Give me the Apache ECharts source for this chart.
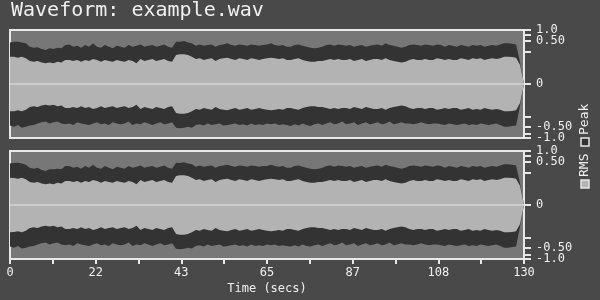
<!DOCTYPE html>
<html>
<head>
<meta charset="utf-8">
<script src="https://cdn.jsdelivr.net/npm/echarts@6/dist/echarts.min.js"></script>
<style>
html,body{margin:0;padding:0;background:#494949;}
#chart{width:600px;height:300px;}
</style>
</head>
<body>
<div id="chart"></div>
<script>
// ---- data: per-second envelope levels in dBFS (display is a 30 dB log amplitude scale) ----
const titleText = 'Waveform: example.wav';
const xAxisName = 'Time (secs)';
const durationSecs = 130;
const legendNames = ['RMS', 'Peak'];

// channel 1 (top panel)
const peakPosL = [-6.9,-6.5,-6.5,-6.9,-7.4,-9.3,-9.8,-9.6,-10.6,-11.1,
 -10.2,-10.6,-9.8,-10.2,-8.3,-8.0,-9.3,-8.7,-9.8,-8.3,
 -9.3,-7.4,-9.3,-9.8,-8.3,-9.3,-10.2,-8.7,-9.3,-9.8,
 -8.3,-9.3,-8.7,-8.0,-9.3,-8.7,-8.3,-9.3,-8.7,-8.0,
 -9.3,-9.8,-6.5,-6.5,-6.1,-6.9,-7.4,-8.7,-8.0,-8.7,
 -8.3,-8.0,-9.3,-8.3,-8.0,-7.4,-8.3,-8.7,-8.0,-8.3,
 -8.7,-8.0,-8.3,-8.7,-8.3,-8.0,-7.4,-8.3,-8.7,-8.3,
 -9.3,-9.3,-8.3,-8.0,-8.7,-9.3,-9.8,-10.2,-9.8,-9.3,
 -8.3,-8.0,-8.7,-8.0,-8.3,-8.7,-8.3,-9.3,-8.7,-8.3,
 -9.3,-8.7,-8.3,-8.0,-8.7,-7.4,-8.3,-8.7,-9.3,-9.8,
 -9.3,-8.3,-8.0,-8.3,-8.7,-8.0,-8.3,-8.7,-8.0,-8.3,
 -9.3,-8.3,-8.7,-9.3,-8.3,-8.7,-9.3,-8.3,-8.7,-8.3,
 -9.3,-8.7,-8.3,-8.7,-8.0,-7.4,-7.4,-7.6,-8.0,-18,
 -30];
const peakNegL = [-6.9,-6.3,-7.2,-5.7,-6.3,-6.9,-7.2,-8.1,-8.7,-9.1,
 -8.1,-8.7,-9.1,-8.1,-7.6,-8.1,-7.2,-8.7,-8.1,-7.6,
 -7.2,-8.1,-8.7,-7.6,-8.1,-7.2,-8.7,-8.1,-7.6,-8.1,
 -9.1,-7.2,-8.1,-7.6,-8.7,-8.1,-7.2,-8.1,-8.7,-7.6,
 -8.1,-8.7,-5.7,-5.4,-5.7,-6.3,-5.7,-7.2,-7.6,-6.9,
 -8.1,-7.2,-7.6,-8.1,-6.9,-7.2,-7.6,-8.1,-7.2,-7.6,
 -6.9,-8.1,-7.2,-7.6,-7.2,-8.1,-7.6,-8.1,-7.2,-7.6,
 -7.2,-6.6,-7.6,-6.9,-8.1,-7.2,-6.6,-7.6,-8.1,-7.2,
 -8.1,-8.7,-7.6,-8.1,-9.1,-7.6,-8.1,-8.7,-7.2,-8.1,
 -8.7,-7.6,-8.1,-8.7,-7.6,-8.1,-9.1,-7.6,-8.1,-8.7,
 -8.1,-8.1,-7.6,-8.1,-8.7,-8.1,-7.6,-8.1,-8.1,-7.6,
 -7.2,-8.1,-7.6,-7.2,-7.6,-8.1,-7.2,-7.6,-7.2,-8.1,
 -7.6,-7.2,-7.6,-8.1,-7.2,-6.3,-6.3,-6.6,-6.9,-18,
 -30];
const rmsL = [-14.8,-14.8,-15.4,-14.8,-15.7,-17.2,-17.6,-17.2,-18.1,-18.5,
 -18.1,-18.5,-17.6,-18.1,-16.7,-16.7,-17.2,-16.7,-17.6,-16.7,
 -17.2,-16.1,-16.7,-17.6,-16.7,-17.2,-17.6,-16.7,-17.2,-17.6,
 -16.7,-17.2,-18.5,-16.1,-17.2,-16.7,-16.1,-17.2,-16.7,-16.1,
 -17.2,-17.6,-13.9,-13.5,-13.5,-13.9,-14.8,-16.1,-15.7,-16.7,
 -16.1,-15.7,-17.2,-16.1,-15.7,-15.4,-16.1,-16.7,-15.7,-16.1,
 -16.7,-15.7,-16.1,-16.7,-16.1,-15.7,-15.4,-15.7,-16.1,-15.7,
 -16.7,-16.7,-16.1,-15.7,-16.7,-17.2,-17.6,-17.6,-17.2,-17.2,
 -16.7,-16.1,-16.7,-16.1,-16.7,-16.7,-16.1,-17.2,-16.7,-16.1,
 -17.2,-16.7,-16.1,-16.1,-16.7,-15.7,-16.7,-17.2,-17.6,-18.1,
 -17.6,-16.7,-16.1,-16.7,-16.7,-16.1,-16.7,-16.7,-15.7,-16.1,
 -16.7,-16.1,-16.7,-16.7,-15.7,-16.1,-16.7,-15.7,-16.1,-15.7,
 -16.7,-16.1,-15.7,-16.1,-15.7,-14.8,-14.8,-15.0,-15.4,-19.5,
 -30];

// channel 2 (bottom panel)
const peakPosR = [-6.9,-6.7,-6.5,-6.9,-7.6,-9.3,-9.8,-9.3,-10.6,-11.1,
 -10.2,-10.2,-9.8,-10.2,-8.3,-8.3,-9.3,-8.7,-9.8,-8.3,
 -9.3,-7.6,-9.3,-9.8,-8.3,-9.3,-10.2,-8.7,-9.3,-9.8,
 -8.3,-9.3,-8.7,-8.0,-9.3,-8.7,-8.3,-9.3,-8.7,-8.0,
 -9.3,-9.8,-6.5,-6.7,-6.3,-6.9,-7.4,-8.7,-8.0,-8.7,
 -8.3,-8.0,-9.3,-8.3,-8.0,-7.6,-8.3,-8.7,-8.0,-8.3,
 -8.7,-8.0,-8.3,-8.7,-8.3,-8.3,-7.6,-8.3,-8.7,-8.3,
 -9.3,-9.3,-8.3,-8.0,-8.7,-9.3,-9.8,-10.2,-9.8,-9.3,
 -8.3,-8.0,-8.7,-8.0,-8.3,-8.7,-8.3,-9.3,-8.7,-8.3,
 -9.3,-8.7,-8.3,-8.0,-8.7,-7.6,-8.3,-8.7,-9.3,-9.8,
 -9.3,-8.3,-8.0,-8.3,-8.7,-8.0,-8.3,-8.7,-8.0,-8.3,
 -9.3,-8.3,-8.7,-9.3,-8.3,-8.7,-9.3,-8.3,-8.7,-8.3,
 -9.3,-8.7,-8.3,-8.7,-8.0,-7.4,-7.4,-7.6,-8.0,-18,
 -30];
const peakNegR = [-6.9,-6.3,-7.2,-5.9,-6.3,-6.9,-7.2,-8.1,-8.7,-9.1,
 -8.1,-8.7,-9.1,-8.1,-7.6,-8.1,-7.2,-8.7,-8.1,-7.6,
 -7.2,-8.1,-8.7,-7.6,-8.1,-7.2,-8.7,-8.1,-7.6,-8.1,
 -9.1,-7.2,-8.1,-7.6,-8.7,-8.1,-7.2,-8.1,-8.7,-7.6,
 -8.1,-8.7,-5.7,-5.4,-5.7,-6.3,-5.9,-7.2,-7.6,-6.9,
 -8.1,-7.2,-7.6,-8.1,-6.9,-7.2,-7.6,-8.1,-7.2,-7.6,
 -6.9,-8.1,-7.2,-7.6,-7.2,-8.1,-7.6,-8.1,-7.2,-7.6,
 -7.2,-6.9,-7.6,-6.9,-8.1,-7.2,-6.9,-7.6,-8.1,-7.2,
 -8.1,-8.7,-7.6,-8.1,-9.1,-7.6,-8.1,-8.7,-7.2,-8.1,
 -8.7,-7.6,-8.1,-8.7,-7.6,-8.1,-9.1,-7.6,-8.1,-8.7,
 -8.1,-8.1,-7.6,-8.1,-8.7,-8.1,-7.6,-8.1,-8.1,-7.6,
 -7.2,-8.1,-7.6,-7.2,-7.6,-8.1,-7.2,-7.6,-7.2,-8.1,
 -7.6,-7.2,-7.6,-8.1,-7.2,-6.3,-6.3,-6.6,-6.9,-18,
 -30];
const rmsR = [-14.8,-15.0,-15.4,-14.8,-15.7,-17.2,-17.6,-17.2,-18.1,-18.5,
 -18.1,-18.5,-17.6,-18.1,-16.7,-16.7,-17.2,-16.7,-17.6,-16.7,
 -17.2,-16.1,-16.7,-17.6,-16.7,-17.2,-17.6,-16.7,-17.2,-17.6,
 -16.7,-17.2,-18.5,-16.1,-17.2,-16.7,-16.1,-17.2,-16.7,-16.1,
 -17.2,-17.6,-13.9,-13.5,-13.5,-13.9,-14.8,-16.1,-15.7,-16.7,
 -16.1,-15.7,-17.2,-16.1,-15.7,-15.4,-16.1,-16.7,-15.7,-16.1,
 -16.7,-15.7,-16.1,-16.7,-16.1,-15.7,-15.4,-15.7,-16.1,-15.7,
 -16.7,-16.7,-16.1,-15.7,-16.7,-17.2,-17.6,-17.6,-17.2,-17.2,
 -16.7,-16.1,-16.7,-16.1,-16.7,-16.7,-16.1,-17.2,-16.7,-16.1,
 -17.2,-16.7,-16.1,-16.1,-16.7,-15.7,-16.7,-17.2,-17.6,-18.1,
 -17.6,-16.7,-16.1,-16.7,-16.7,-16.1,-16.7,-16.7,-15.7,-16.1,
 -16.7,-16.1,-16.7,-16.7,-15.7,-16.1,-16.7,-15.7,-16.1,-15.7,
 -16.7,-16.1,-15.7,-16.1,-15.7,-14.8,-14.8,-15.0,-15.4,-19.5,
 -30];

// y axis: amplitude ticks on the log (dB) scale
const yTickAmps = [1, 0.75, 0.5, 0.25, 0, -0.25, -0.5, -0.75, -1];
const yLabelAmpsA = [1, 0, -1];
const yLabelTextsA = ['1.0', '0', '-1.0'];
const yLabelAmpsB = [0.5, -0.5];
const yLabelTextsB = ['0.50', '-0.50'];
const xTickCount = 12;   // minor+major tick intervals
const xLabelEvery = 2;

// ---- scale helpers ----
const DB_RANGE = 30;
const dbToLevel = db => Math.max(0, DB_RANGE + db);
const ampToLevel = a => a === 0 ? 0 : Math.sign(a) * Math.max(0, DB_RANGE + 20 * Math.log10(Math.abs(a)));

const COL = {
  bg: '#494949', panel: '#777777', peak: '#333333', rms: '#b3b3b3',
  frame: '#e8e8e8', text: '#f0f0f0', center: '#cccccc'
};
const MONO = 'DejaVu Sans Mono';

const yTickLevels = yTickAmps.map(ampToLevel);
const xTicks = [];
for (let k = 0; k <= xTickCount; k++) xTicks.push(durationSecs * k / xTickCount);
const xLabels = xTicks.filter((v, k) => k % xLabelEvery === 0);

function pts(arr, sign) {
  return arr.map((db, i) => [i, sign * dbToLevel(db)]);
}
function makeFmt(amps, texts) {
  const lv = amps.map(ampToLevel);
  return v => {
    let best = 0, bd = Infinity;
    lv.forEach((l, i) => { const d = Math.abs(l - v); if (d < bd) { bd = d; best = i; } });
    return texts[best];
  };
}

const gridTops = [30, 151];
const gridH = 108;
const grids = gridTops.map(t => ({
  left: 10, right: 76, top: t, height: gridH, show: true,
  backgroundColor: COL.panel, borderColor: COL.frame, borderWidth: 2
}));

const xAxes = [0, 1].map(g => ({
  gridIndex: g, type: 'value', min: 0, max: durationSecs,
  show: g === 1,
  axisLine: { show: true, onZero: false, lineStyle: { color: COL.frame, width: 2 } },
  axisTick: { show: true, customValues: xTicks, length: 5, lineStyle: { color: COL.frame, width: 2 } },
  axisLabel: { customValues: xLabels, formatter: v => String(Math.round(v)), color: COL.text,
    fontFamily: MONO, fontSize: 12, margin: 8 },
  splitLine: { show: false },
  name: g === 1 ? xAxisName : '', nameLocation: 'middle', nameGap: 24,
  nameTextStyle: { color: COL.text, fontFamily: MONO, fontSize: 12 }
}));

const labelStyle = { color: COL.text, fontFamily: MONO, fontSize: 12, margin: 12, hideOverlap: false,
  showMinLabel: true, showMaxLabel: true, padding: [0, 0, 4, 0] };
const yAxes = [];
[0, 1].forEach(g => {
  yAxes.push({
    gridIndex: g, type: 'value', min: -DB_RANGE, max: DB_RANGE, position: 'right',
    axisLine: { show: true, onZero: false, lineStyle: { color: COL.frame, width: 2 } },
    axisTick: { show: true, customValues: yTickLevels, length: 7, lineStyle: { color: COL.frame, width: 2 } },
    axisLabel: Object.assign({ customValues: yLabelAmpsA.map(ampToLevel), formatter: makeFmt(yLabelAmpsA, yLabelTextsA) }, labelStyle),
    splitLine: { show: false }
  });
});
[0, 1].forEach(g => {
  yAxes.push({
    gridIndex: g, type: 'value', min: -DB_RANGE, max: DB_RANGE, position: 'right',
    axisLine: { show: false, onZero: false }, axisTick: { show: false },
    axisLabel: Object.assign({ customValues: yLabelAmpsB.map(ampToLevel), formatter: makeFmt(yLabelAmpsB, yLabelTextsB) }, labelStyle),
    splitLine: { show: false }
  });
});

const channels = [
  { peakPos: peakPosL, peakNeg: peakNegL, rms: rmsL },
  { peakPos: peakPosR, peakNeg: peakNegR, rms: rmsR }
];
const series = [];
channels.forEach((ch, g) => {
  const base = { type: 'line', xAxisIndex: g, yAxisIndex: g, showSymbol: false, symbol: 'none',
    silent: true, lineStyle: { width: 0, opacity: 0 } };
  series.push(Object.assign({}, base, { name: 'Peak', data: pts(ch.peakPos, 1), areaStyle: { color: COL.peak, opacity: 1 } }));
  series.push(Object.assign({}, base, { name: 'Peak', data: pts(ch.peakNeg, -1), areaStyle: { color: COL.peak, opacity: 1 } }));
  series.push(Object.assign({}, base, { name: 'RMS', data: pts(ch.rms, 1), areaStyle: { color: COL.rms, opacity: 1 } }));
  series.push(Object.assign({}, base, { name: 'RMS', data: pts(ch.rms, -1), areaStyle: { color: COL.rms, opacity: 1 },
    markLine: { silent: true, symbol: ['none', 'none'], label: { show: false },
      lineStyle: { color: COL.center, width: 2, type: 'solid' }, data: [{ yAxis: 0 }] } }));
});

const legendFills = { RMS: COL.rms, Peak: COL.peak };
const legendChildren = [];
let lx = 0;
legendNames.forEach(n => {
  legendChildren.push({ type: 'rect', shape: { x: lx, y: -4, width: 8, height: 8 },
    style: { fill: legendFills[n], stroke: COL.frame, lineWidth: 1.5 } });
  legendChildren.push({ type: 'text', x: lx + 11, y: 0,
    style: { text: n, fill: COL.text, font: '13px "' + MONO + '"', verticalAlign: 'middle', align: 'left' } });
  lx += 42;
});

const chart = echarts.init(document.getElementById('chart'), null, { renderer: 'canvas' });
chart.setOption({
  animation: false,
  backgroundColor: COL.bg,
  title: { text: titleText, left: 11, top: 1, padding: 0,
    textStyle: { color: COL.text, fontFamily: MONO, fontSize: 20, fontWeight: 'normal' } },
  grid: grids,
  xAxis: xAxes,
  yAxis: yAxes,
  series: series,
  graphic: [{ type: 'group', x: 585, y: 188, rotation: Math.PI / 2, children: legendChildren }]
});
</script>
</body>
</html>
